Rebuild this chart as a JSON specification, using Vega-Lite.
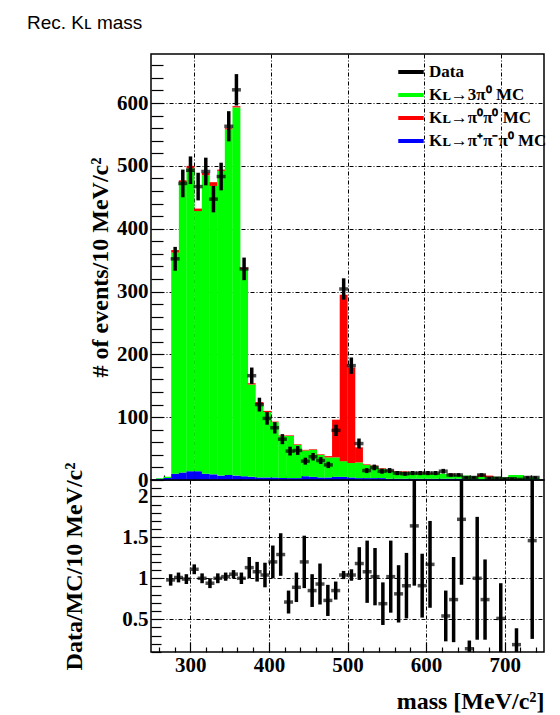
{
  "$schema": "https://vega.github.io/schema/vega-lite/v6.json",
  "background": "white",
  "padding": {"left": 27, "top": 14, "right": 5, "bottom": 5},
  "title": {"text": "Rec. Kʟ mass", "anchor": "start", "frame": "bounds", "font": "Liberation Sans", "fontSize": 19, "fontWeight": "normal", "color": "black", "offset": 20, "dx": -35},
  "spacing": 0,
  "bounds": "flush",
  "config": {
    "view": {"stroke": "black", "strokeWidth": 1.5},
    "axis": {"labelFont": "Liberation Serif", "labelFontWeight": "bold", "labelFontSize": 21, "labelColor": "black", "titleFont": "Liberation Serif", "titleFontWeight": "bold", "titleFontSize": 24, "titleColor": "black", "domain": false, "tickColor": "black", "tickWidth": 1.2, "gridColor": "black", "gridDash": [4, 2, 1, 2], "gridWidth": 1, "tickCount": 100, "labelOverlap": false}
  },
  "datasets": {
    "h": [
      {"c": 255, "b": 2, "g": 1, "r": 0},
      {"c": 265, "b": 3, "g": 2, "r": 0},
      {"c": 275, "b": 10, "g": 352, "r": 4, "d": 352, "de": 19, "q": 0.98, "qe": 0.07},
      {"c": 285, "b": 12, "g": 462, "r": 3, "d": 472, "de": 22, "q": 1.01, "qe": 0.06},
      {"c": 295, "b": 14, "g": 482, "r": 4, "d": 493, "de": 22, "q": 0.99, "qe": 0.06},
      {"c": 305, "b": 14, "g": 414, "r": 4, "d": 467, "de": 22, "q": 1.11, "qe": 0.06},
      {"c": 315, "b": 10, "g": 475, "r": 4, "d": 491, "de": 22, "q": 1.0, "qe": 0.06},
      {"c": 325, "b": 9, "g": 459, "r": 6, "d": 447, "de": 21, "q": 0.94, "qe": 0.06},
      {"c": 335, "b": 7, "g": 485, "r": 2, "d": 483, "de": 22, "q": 1.0, "qe": 0.06},
      {"c": 345, "b": 8, "g": 550, "r": 2, "d": 563, "de": 24, "q": 1.02, "qe": 0.05},
      {"c": 355, "b": 7, "g": 586, "r": 2, "d": 621, "de": 25, "q": 1.05, "qe": 0.05},
      {"c": 365, "b": 6, "g": 330, "r": 2, "d": 336, "de": 18, "q": 1.0, "qe": 0.07},
      {"c": 375, "b": 5, "g": 147, "r": 2, "d": 166, "de": 13, "q": 1.13, "qe": 0.13},
      {"c": 385, "b": 4, "g": 116, "r": 4, "d": 120, "de": 11, "q": 1.08, "qe": 0.12},
      {"c": 395, "b": 4, "g": 104, "r": 2, "d": 98, "de": 10, "q": 1.04, "qe": 0.15},
      {"c": 405, "b": 4, "g": 88, "r": 1, "d": 83, "de": 9, "q": 1.2, "qe": 0.2},
      {"c": 415, "b": 3, "g": 67, "r": 1, "d": 65, "de": 8, "q": 1.29, "qe": 0.26},
      {"c": 425, "b": 3, "g": 67, "r": 1, "d": 46, "de": 7, "q": 0.71, "qe": 0.14},
      {"c": 435, "b": 3, "g": 53, "r": 1, "d": 47, "de": 7, "q": 0.89, "qe": 0.18},
      {"c": 445, "b": 6, "g": 41, "r": 1, "d": 30, "de": 5.5, "q": 1.2, "qe": 0.32},
      {"c": 455, "b": 5, "g": 43, "r": 1, "d": 37, "de": 6, "q": 0.85, "qe": 0.2},
      {"c": 465, "b": 4, "g": 36, "r": 1, "d": 31, "de": 5.5, "q": 0.93, "qe": 0.25},
      {"c": 475, "b": 4, "g": 32, "r": 2, "d": 24, "de": 5, "q": 0.73, "qe": 0.19},
      {"c": 485, "b": 5, "g": 31, "r": 60, "d": 79, "de": 9, "q": 0.85, "qe": 0.11},
      {"c": 495, "b": 5, "g": 25, "r": 265, "d": 304, "de": 17, "q": 1.04, "qe": 0.05},
      {"c": 505, "b": 4, "g": 23, "r": 152, "d": 182, "de": 13, "q": 1.04, "qe": 0.07},
      {"c": 515, "b": 3, "g": 25, "r": 24, "d": 58, "de": 8, "q": 1.18, "qe": 0.2},
      {"c": 525, "b": 3, "g": 21, "r": 1, "d": 15, "de": 4, "q": 1.08, "qe": 0.38},
      {"c": 535, "b": 3, "g": 19, "r": 1, "d": 20, "de": 4.5, "q": 1.02, "qe": 0.35},
      {"c": 545, "b": 3, "g": 15, "r": 1, "d": 14, "de": 4, "q": 0.69, "qe": 0.26},
      {"c": 555, "b": 2, "g": 13, "r": 1, "d": 15, "de": 4, "q": 1.02, "qe": 0.44},
      {"c": 565, "b": 2, "g": 11, "r": 1, "d": 11, "de": 3.3, "q": 0.81, "qe": 0.35},
      {"c": 575, "b": 2, "g": 11, "r": 1, "d": 10, "de": 3.2, "q": 0.91, "qe": 0.4},
      {"c": 585, "b": 2, "g": 10, "r": 0, "d": 11, "de": 3.3, "q": 1.64, "qe": 0.73},
      {"c": 595, "b": 2, "g": 9, "r": 1, "d": 11, "de": 3.3, "q": 0.91, "qe": 0.39},
      {"c": 605, "b": 2, "g": 8, "r": 1, "d": 11, "de": 3.3, "q": 1.17, "qe": 0.53},
      {"c": 615, "b": 2, "g": 9, "r": 0, "d": 11, "de": 3.3},
      {"c": 625, "b": 2, "g": 8, "r": 0, "d": 14, "de": 3.7, "q": 0.54, "qe": 0.31},
      {"c": 635, "b": 2, "g": 7, "r": 1, "d": 8, "de": 2.8, "q": 0.74, "qe": 0.52},
      {"c": 645, "b": 2, "g": 6, "r": 0, "d": 8, "de": 2.8, "q": 1.72, "qe": 0.8},
      {"c": 655, "b": 1, "g": 6, "r": 0, "d": 4, "de": 2, "q": 0.14, "qe": 0.1},
      {"c": 665, "b": 1, "g": 5, "r": 0, "d": 4, "de": 2, "q": 1.0, "qe": 0.75},
      {"c": 675, "b": 1, "g": 4, "r": 4, "d": 8, "de": 2.8, "q": 0.74, "qe": 0.49},
      {"c": 685, "b": 1, "g": 4, "r": 2, "d": 3, "de": 1.7},
      {"c": 695, "b": 1, "g": 4, "r": 0, "d": 3, "de": 1.7, "q": 0.51, "qe": 0.43},
      {"c": 705, "b": 1, "g": 3, "r": 0, "d": 2, "de": 1.4},
      {"c": 715, "b": 1, "g": 7, "r": 0, "d": 2, "de": 1.4, "q": 0.19, "qe": 0.2},
      {"c": 725, "b": 1, "g": 7, "r": 0, "d": 1, "de": 1},
      {"c": 735, "b": 1, "g": 3, "r": 0, "d": 4, "de": 2, "q": 1.46, "qe": 1.2},
      {"c": 745, "b": 1, "g": 3, "r": 0, "d": 4, "de": 2}
    ]
  },
  "vconcat": [
    {
      "width": 393,
      "height": 426,
      "data": {"name": "h"},
      "layer": [
        {
          "transform": [
            {"fold": ["b", "g", "r"], "as": ["comp", "n"]},
            {"calculate": "datum.comp === 'b' ? 0 : (datum.comp === 'g' ? 1 : 2)", "as": "k"}
          ],
          "mark": {"type": "bar", "width": 7.9, "clip": true},
          "encoding": {
            "x": {"field": "c", "type": "quantitative", "scale": {"domain": [250, 750], "nice": false, "zero": false},
              "axis": {"title": null, "labels": false, "values": [260, 280, 300, 320, 340, 360, 380, 400, 420, 440, 460, 480, 500, 520, 540, 560, 580, 600, 620, 640, 660, 680, 700, 720, 740],
                "tickSize": {"condition": {"test": "datum.value % 100 === 0", "value": -10}, "value": -5},
                "grid": true, "gridOpacity": {"condition": {"test": "datum.value % 100 === 0", "value": 1}, "value": 0}}},
            "y": {"field": "n", "type": "quantitative", "stack": "zero", "scale": {"domain": [0, 678], "nice": false},
              "axis": {"title": "# of events/10 MeV/c²", "titlePadding": 4, "labelPadding": 15,
                "values": [0, 20, 40, 60, 80, 100, 120, 140, 160, 180, 200, 220, 240, 260, 280, 300, 320, 340, 360, 380, 400, 420, 440, 460, 480, 500, 520, 540, 560, 580, 600, 620, 640, 660],
                "labelExpr": "datum.value % 100 === 0 ? datum.label : ''",
                "tickSize": -12,
                "grid": true, "gridOpacity": {"condition": {"test": "datum.value % 100 === 0 && datum.value > 0", "value": 1}, "value": 0}}},
            "color": {"field": "comp", "type": "nominal",
              "scale": {"domain": ["Data", "g", "r", "b"], "range": ["black", "#00ff00", "#ff0000", "#0000ff"]},
              "legend": {"title": null, "orient": "none", "legendX": 245, "legendY": 3, "symbolType": "stroke", "symbolSize": 650, "symbolStrokeWidth": 4,
                "labelFont": "Liberation Serif", "labelFontWeight": "bold", "labelFontSize": 17, "labelColor": "black", "rowPadding": -2, "labelOffset": 3,
                "labelExpr": "datum.label === 'g' ? 'Kʟ→3π⁰ MC' : (datum.label === 'r' ? 'Kʟ→π⁰π⁰ MC' : (datum.label === 'b' ? 'Kʟ→π⁺π⁻π⁰ MC' : datum.label))",
                "encode": {"symbols": {"update": {"stroke": {"scale": "color", "field": "value"}, "strokeWidth": {"value": 4}}}}}},
            "order": {"field": "k", "type": "quantitative"}
          }
        },
        {
          "transform": [{"filter": "isValid(datum.d)"}, {"calculate": "datum.d - datum.de", "as": "dlo"}, {"calculate": "datum.d + datum.de", "as": "dhi"}],
          "mark": {"type": "rule", "strokeWidth": 3.5, "clip": true},
          "encoding": {
            "x": {"field": "c", "type": "quantitative"},
            "y": {"field": "dlo", "type": "quantitative"},
            "y2": {"field": "dhi"},
            "color": {"datum": "Data"}
          }
        },
        {
          "transform": [{"filter": "isValid(datum.d)"}],
          "mark": {"type": "tick", "orient": "horizontal", "thickness": 3.5, "size": 9, "color": "black", "clip": true},
          "encoding": {
            "x": {"field": "c", "type": "quantitative"},
            "y": {"field": "d", "type": "quantitative"}
          }
        }
      ]
    },
    {
      "width": 393,
      "height": 172,
      "data": {"name": "h"},
      "transform": [{"filter": "isValid(datum.q)"}, {"calculate": "datum.q - datum.qe", "as": "qlo"}, {"calculate": "datum.q + datum.qe", "as": "qhi"}],
      "layer": [
        {
          "mark": {"type": "rule", "strokeWidth": 3.5, "color": "black", "clip": true},
          "encoding": {
            "x": {"field": "c", "type": "quantitative", "scale": {"domain": [250, 750], "nice": false, "zero": false},
              "axis": {"title": "mass [MeV/c²]", "titleAnchor": "end", "titlePadding": 9, "labelPadding": 12,
                "values": [260, 280, 300, 320, 340, 360, 380, 400, 420, 440, 460, 480, 500, 520, 540, 560, 580, 600, 620, 640, 660, 680, 700, 720, 740],
                "labelExpr": "datum.value % 100 === 0 ? datum.label : ''",
                "tickSize": {"condition": {"test": "datum.value % 100 === 0", "value": -10}, "value": -5},
                "grid": true, "gridOpacity": {"condition": {"test": "datum.value % 100 === 0", "value": 1}, "value": 0}}},
            "y": {"field": "qlo", "type": "quantitative", "scale": {"domain": [0.1, 2.2], "nice": false, "zero": false},
              "axis": {"title": "Data/MC/10 MeV/c²", "titlePadding": 35, "labelPadding": 13, "format": "~g",
                "values": [0.1, 0.2, 0.3, 0.4, 0.5, 0.6, 0.7, 0.8, 0.9, 1, 1.1, 1.2, 1.3, 1.4, 1.5, 1.6, 1.7, 1.8, 1.9, 2, 2.1],
                "labelExpr": "indexof([0.5, 1, 1.5, 2], datum.value) >= 0 ? datum.label : ''",
                "tickSize": -10,
                "grid": true, "gridOpacity": {"condition": {"test": "indexof([0.5, 1, 1.5, 2], datum.value) >= 0", "value": 1}, "value": 0}}},
            "y2": {"field": "qhi"}
          }
        },
        {
          "mark": {"type": "tick", "orient": "horizontal", "thickness": 3.5, "size": 9, "color": "black", "clip": true},
          "encoding": {
            "x": {"field": "c", "type": "quantitative"},
            "y": {"field": "q", "type": "quantitative"}
          }
        }
      ]
    }
  ]
}
